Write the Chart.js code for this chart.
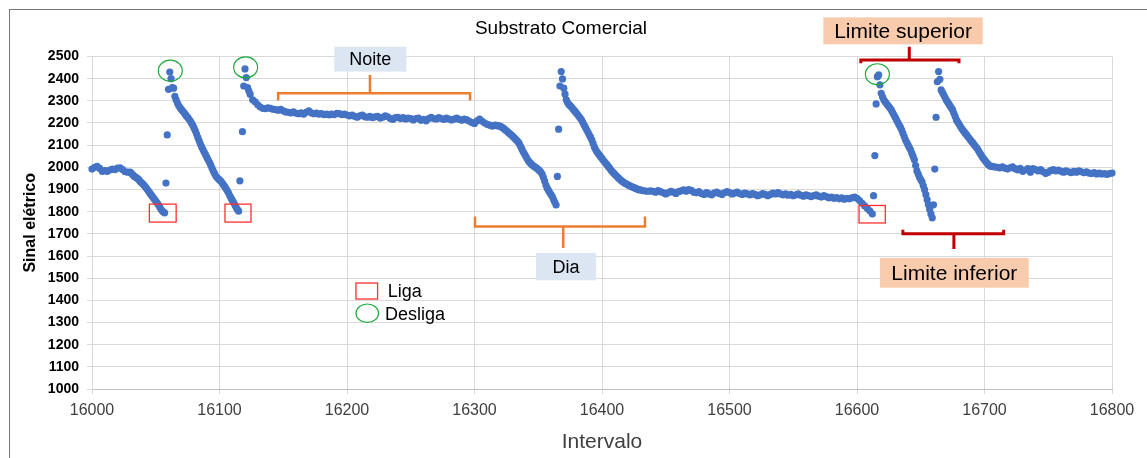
<!DOCTYPE html>
<html>
<head>
<meta charset="utf-8">
<script src="https://cdn.jsdelivr.net/npm/chart.js@4.4.1/dist/chart.umd.min.js"></script>
<style>
  html, body { margin: 0; padding: 0; background: #fff; overflow: hidden; }
  .moldura { position: absolute; left: 9px; top: 9px; width: 1300px; height: 600px; border: 1px solid #767676; }
  canvas { display: block; }
</style>
</head>
<body>
<div class="moldura"><canvas id="chartSinal" width="1138" height="449"></canvas></div>
<script>
// cada trecho: primeiro intervalo, passo entre leituras, valores lidos
const inicioA = 16000, passoA = 2;
const sinalA = [
  1992, 2000, 2005, 1995, 1982, 1985, 1982, 1988, 1992, 1990,
  1996, 1998, 1990, 1980, 1978, 1978,
];
const inicioLiga1 = 16031, passoLiga1 = 1;
const sinalLiga1 = [
  1972, 1966, 1960, 1956, 1952, 1948, 1942, 1935, 1930, 1924,
  1918, 1911, 1903, 1895, 1887, 1879, 1871, 1863, 1856, 1848,
  1840, 1832, 1822, 1812, 1804, 1798, 1795,
];
const inicioB = 16065, passoB = 1;
const sinalB = [
  2320, 2304, 2290, 2279, 2270, 2262, 2255, 2248, 2240, 2232,
  2225, 2218, 2210, 2200, 2190, 2178, 2165, 2150, 2135, 2120,
  2105, 2092, 2080, 2069, 2058, 2046, 2035, 2024, 2012, 1998,
  1985, 1973, 1962, 1955, 1948, 1943, 1938, 1930, 1922, 1914,
  1905, 1895, 1885, 1873, 1862, 1852, 1842, 1831, 1820, 1810,
  1802,
];
const inicioNoite = 16124, passoNoite = 2;
const sinalNoite = [
  2330, 2305, 2295, 2282, 2272, 2266, 2265, 2268, 2266, 2262,
  2260, 2258, 2262, 2255, 2250, 2248, 2246, 2250, 2244, 2242,
  2246, 2240, 2248, 2255, 2246, 2242, 2245, 2240, 2242, 2238,
  2240, 2236, 2240, 2238, 2244, 2242, 2238, 2240, 2236, 2232,
  2236, 2230, 2226, 2232, 2236, 2228, 2226, 2230, 2224, 2228,
  2230, 2222, 2226, 2232, 2228, 2220, 2216, 2224, 2226, 2220,
  2224, 2218, 2222, 2220, 2214, 2220, 2222, 2212, 2216, 2210,
  2220, 2226, 2220, 2218, 2224, 2220, 2216, 2222, 2218, 2214,
  2218, 2222, 2216, 2212, 2218, 2214, 2208, 2202, 2198, 2210,
  2218, 2208, 2200, 2194, 2190, 2186, 2190,
];
const inicioQueda1 = 16317, passoQueda1 = 1;
const sinalQueda1 = [
  2189, 2188, 2187, 2186, 2183, 2179, 2175, 2170, 2165, 2160,
  2155, 2150, 2145, 2140, 2134, 2128, 2122, 2116, 2108, 2096,
  2084, 2072, 2062, 2052, 2042, 2032, 2024, 2018, 2012, 2007,
  2003, 1999, 1995, 1990, 1985, 1979, 1970, 1955, 1938, 1920,
  1906, 1896, 1886, 1877, 1868, 1855, 1842, 1830,
];
const inicioSubida = 16371, passoSubida = 1;
const sinalSubida = [
  2330, 2305, 2292, 2284, 2278, 2272, 2265, 2258, 2251, 2244,
  2237, 2229, 2221, 2213, 2202, 2191, 2180, 2169, 2158, 2147,
  2136, 2124, 2108, 2092, 2080, 2070, 2062, 2055, 2047, 2040,
  2032, 2025, 2018, 2011, 2003, 1996, 1988, 1981, 1975, 1969,
  1963, 1957, 1951, 1946, 1941, 1936, 1932, 1928, 1925, 1922,
  1919, 1916, 1913, 1911, 1909, 1906, 1903, 1901, 1899, 1898,
];
const inicioDia = 16432, passoDia = 2;
const sinalDia = [
  1895, 1893, 1892, 1894, 1892, 1888, 1895, 1890, 1885, 1880,
  1886, 1892, 1888, 1882, 1890, 1894, 1898, 1892, 1900, 1896,
  1888, 1885, 1890, 1882, 1878, 1886, 1880, 1876, 1884, 1888,
  1882, 1878, 1885, 1890, 1886, 1880, 1884, 1888, 1882, 1878,
  1884, 1880, 1876, 1882, 1878, 1872, 1876, 1882, 1878, 1872,
  1878, 1884, 1880, 1886, 1880, 1876, 1880, 1874, 1878, 1872,
  1876, 1880, 1874, 1870, 1876, 1872, 1868, 1872, 1876, 1870,
  1866, 1872, 1868, 1862, 1866, 1860, 1864, 1858, 1862, 1856,
  1860, 1858, 1862, 1866, 1860, 1850, 1838, 1826, 1815, 1804,
  1790,
];
const inicioE = 16619, passoE = 1;
const sinalE = [
  2334, 2318, 2305, 2296, 2289, 2281, 2274, 2266, 2258, 2247,
  2236, 2225, 2214, 2203, 2192, 2181, 2169, 2154, 2139, 2124,
  2113, 2101, 2090, 2079, 2064, 2049, 2034, 2008, 1984, 1970,
  1955, 1945, 1935, 1917, 1899, 1877, 1854, 1832, 1810, 1790,
  1772,
];
const inicioF = 16666, passoF = 1;
const sinalF = [
  2349, 2338, 2327, 2316, 2304, 2295, 2286, 2277, 2268, 2259,
  2244, 2229, 2214, 2204, 2195, 2185, 2176, 2168, 2161, 2153,
  2146, 2138, 2131, 2123, 2116, 2109, 2101, 2094, 2087, 2078,
  2068, 2059, 2049, 2041, 2034, 2026, 2019, 2012, 2007, 2005,
];
const inicioFinal = 16706, passoFinal = 2;
const sinalFinal = [
  2004, 2002, 2000, 1998, 2002, 1996, 1992, 1998, 2002, 1994,
  1988, 1995, 1982, 1988, 1994, 1978, 1994, 1990, 1984, 1990,
  1980, 1972, 1978, 1986, 1990, 1984, 1988, 1982, 1978, 1984,
  1980, 1976, 1982, 1978, 1984, 1980, 1976, 1980, 1974, 1972,
  1976, 1970, 1974, 1970, 1972, 1968, 1972, 1974,
];
// pontos isolados nas transicoes liga/desliga
const transicaoX = [
  16058, 16059, 16060, 16061, 16062, 16063, 16064,
  16116, 16118, 16119, 16120, 16121, 16122, 16123,
  16365, 16366, 16367, 16368, 16369, 16370,
  16613, 16614, 16615, 16616, 16617, 16618,
  16660, 16661, 16662, 16663, 16664, 16665,
];
const transicaoY = [
  1929, 2146, 2352, 2430, 2400, 2360, 2357,
  1939, 2161, 2367, 2444, 2405, 2360, 2345,
  1959, 2172, 2367, 2432, 2399, 2357,
  1872, 2053, 2286, 2409, 2417, 2372,
  1831, 1992, 2226, 2386, 2432, 2397,
];

function trecho(inicio, passo, valores) {
  return valores.map((v, i) => ({ x: inicio + i * passo, y: v }));
}

const pontos = [
  ...trecho(inicioA, passoA, sinalA),
  ...trecho(inicioLiga1, passoLiga1, sinalLiga1),
  ...trecho(inicioB, passoB, sinalB),
  ...trecho(inicioNoite, passoNoite, sinalNoite),
  ...trecho(inicioQueda1, passoQueda1, sinalQueda1),
  ...trecho(inicioSubida, passoSubida, sinalSubida),
  ...trecho(inicioDia, passoDia, sinalDia),
  ...trecho(inicioE, passoE, sinalE),
  ...trecho(inicioF, passoF, sinalF),
  ...trecho(inicioFinal, passoFinal, sinalFinal),
  ...transicaoX.map((x, i) => ({ x: x, y: transicaoY[i] })),
];

// anotacoes (coordenadas nos eixos do grafico)
const caixasLiga = [
  [16045, 16066, 1834, 1753],
  [16104.3, 16124.7, 1834, 1753],
  [16601.6, 16622.2, 1828, 1749],
];
const elipsesDesliga = [
  [16061.4, 2436],
  [16120.5, 2451],
  [16616, 2420],
];

const fonte = 'Arial, "Liberation Sans", sans-serif';
Chart.defaults.font.family = fonte;

function chave(ctx, xa, xb, yl, yh, xs, ys) {
  ctx.beginPath();
  ctx.moveTo(xa, yh);
  ctx.lineTo(xa, yl);
  ctx.lineTo(xb, yl);
  ctx.lineTo(xb, yh);
  ctx.moveTo(xs, yl);
  ctx.lineTo(xs, ys);
  ctx.stroke();
}

function rotulo(ctx, x1, y1, x2, y2, fundo, texto, tamanho) {
  ctx.fillStyle = fundo;
  ctx.fillRect(x1, y1, x2 - x1, y2 - y1);
  ctx.fillStyle = '#000';
  ctx.font = tamanho + 'px ' + fonte;
  ctx.textAlign = 'center';
  ctx.textBaseline = 'middle';
  ctx.fillText(texto, (x1 + x2) / 2, (y1 + y2) / 2 + 1);
}

const anotacoes = {
  id: 'anotacoes',
  afterDraw(chart) {
    const ctx = chart.ctx;
    const px = v => chart.scales.x.getPixelForValue(v);
    const py = v => chart.scales.y.getPixelForValue(v);
    ctx.save();

    // Liga
    ctx.strokeStyle = '#ff3030';
    ctx.lineWidth = 1.3;
    caixasLiga.forEach(([a, b, c, d]) => {
      ctx.strokeRect(px(a), py(c), px(b) - px(a), py(d) - py(c));
    });
    // Desliga
    ctx.strokeStyle = '#1faa3a';
    ctx.lineWidth = 1.2;
    elipsesDesliga.forEach(([a, b]) => {
      ctx.beginPath();
      ctx.ellipse(px(a), py(b), 12, 10.5, 0, 0, Math.PI * 2);
      ctx.stroke();
    });

    // Noite / Dia
    ctx.strokeStyle = '#ed7d31';
    ctx.lineWidth = 2.5;
    chave(ctx, px(16146), px(16296.5), py(2334), py(2301), px(16218), py(2417));
    chave(ctx, px(16300.4), px(16433.7), py(1733), py(1778), px(16369.6), py(1636));
    rotulo(ctx, px(16190), py(2544), px(16246.5), py(2432), '#dce6f2', 'Noite', 18);
    rotulo(ctx, px(16348.2), py(1613.5), px(16395.3), py(1490), '#dce6f2', 'Dia', 18);

    // Limites
    ctx.strokeStyle = '#c00000';
    ctx.lineWidth = 3;
    chave(ctx, px(16603), px(16680), py(2484), py(2470), px(16641), py(2544));
    chave(ctx, px(16636), px(16715), py(1700), py(1718), px(16676), py(1632));
    rotulo(ctx, px(16573.6), py(2676.6), px(16698.6), py(2555), '#f8cbad', 'Limite superior', 21);
    rotulo(ctx, px(16618), py(1591), px(16734.7), py(1457), '#f8cbad', 'Limite inferior', 21);

    // legenda
    ctx.strokeStyle = '#ff3030';
    ctx.lineWidth = 1.3;
    ctx.strokeRect(px(16207), py(1478), px(16224) - px(16207), py(1406) - py(1478));
    ctx.strokeStyle = '#1faa3a';
    ctx.lineWidth = 1.2;
    ctx.beginPath();
    ctx.ellipse(px(16215.9), py(1342), 11.3, 9.2, 0, 0, Math.PI * 2);
    ctx.stroke();
    ctx.fillStyle = '#000';
    ctx.font = '18px ' + fonte;
    ctx.textAlign = 'left';
    ctx.textBaseline = 'middle';
    ctx.fillText('Liga', px(16232), py(1439));
    ctx.fillText('Desliga', px(16229.8), py(1335));

    ctx.restore();
  },
};

const chartSinalConfig = {
  type: 'scatter',
  data: {
    datasets: [
      {
        data: pontos,
        pointBackgroundColor: '#4472c4',
        pointBorderWidth: 0,
        pointRadius: 3.6,
        clip: false,
      },
    ],
  },
  options: {
    responsive: false,
    animation: false,
    layout: {
      padding: { left: 0, right: 36, top: 0, bottom: 0 },
    },
    plugins: {
      legend: { display: false },
      tooltip: { enabled: false },
      title: {
        display: true,
        text: 'Substrato Comercial',
        color: '#000',
        font: { size: 19, weight: 'normal' },
        padding: { top: 7.6, bottom: 16.1 },
      },
    },
    scales: {
      x: {
        type: 'linear',
        min: 16000,
        max: 16800,
        ticks: {
          stepSize: 100,
          color: '#404040',
          font: { size: 16 },
          padding: 7,
          maxRotation: 0,
          callback: v => String(v),
        },
        grid: { color: '#d9d9d9', tickLength: 5 },
        border: { color: '#bfbfbf' },
        title: {
          display: true,
          text: 'Intervalo',
          color: '#404040',
          font: { size: 21 },
          padding: { top: 0, bottom: 4 },
        },
        afterFit: s => { s.height = 70; },
      },
      y: {
        min: 1000,
        max: 2500,
        ticks: {
          stepSize: 100,
          color: '#000',
          font: { size: 14, weight: 'bold' },
          padding: 8,
          callback: v => String(v),
        },
        grid: { color: '#d9d9d9', tickLength: 5 },
        border: { color: '#d9d9d9' },
        title: {
          display: true,
          text: 'Sinal elétrico',
          color: '#000',
          font: { size: 16, weight: 'bold' },
          padding: { top: 11.4, bottom: 0 },
        },
        afterFit: s => { s.width = 82; },
      },
    },
  },
  plugins: [anotacoes],
};

const chartSinal = new Chart(document.getElementById('chartSinal'), chartSinalConfig);
</script>
</body>
</html>
